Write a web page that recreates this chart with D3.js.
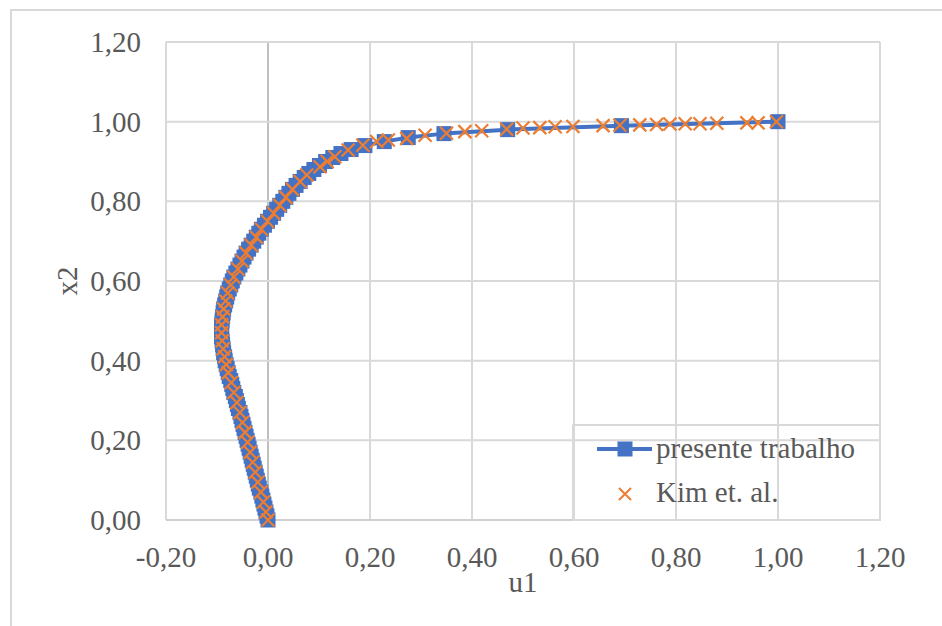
<!DOCTYPE html>
<html>
<head>
<meta charset="utf-8">
<script src="https://cdn.jsdelivr.net/npm/d3@7"></script>
<style>
	body { margin: 0; background: #fff; }
	svg { display: block; font-family: "Liberation Serif", "Times New Roman", serif; }
</style>
</head>
<body>
<svg id="chart" width="942" height="626"></svg>
<script>
// presente trabalho: uniform grid in x2, u1
var presenteY = [0.00,0.01,0.02,0.03,0.04,0.05,0.06,0.07,0.08,0.09,
	0.10,0.11,0.12,0.13,0.14,0.15,0.16,0.17,0.18,0.19,
	0.20,0.21,0.22,0.23,0.24,0.25,0.26,0.27,0.28,0.29,
	0.30,0.31,0.32,0.33,0.34,0.35,0.36,0.37,0.38,0.39,
	0.40,0.41,0.42,0.43,0.44,0.45,0.46,0.47,0.48,0.49,
	0.50,0.51,0.52,0.53,0.54,0.55,0.56,0.57,0.58,0.59,
	0.60,0.61,0.62,0.63,0.64,0.65,0.66,0.67,0.68,0.69,
	0.70,0.71,0.72,0.73,0.74,0.75,0.76,0.77,0.78,0.79,
	0.80,0.81,0.82,0.83,0.84,0.85,0.86,0.87,0.88,0.89,
	0.90,0.91,0.92,0.93,0.94,0.95,0.96,0.97,0.98,0.99,1.00];
var presenteU = [0.000,-0.002,-0.004,-0.006,-0.008,-0.010,-0.012,-0.014,-0.017,-0.019,
	-0.021,-0.023,-0.025,-0.027,-0.029,-0.031,-0.033,-0.035,-0.037,-0.039,
	-0.041,-0.043,-0.045,-0.047,-0.049,-0.051,-0.053,-0.055,-0.058,-0.060,
	-0.062,-0.064,-0.067,-0.069,-0.071,-0.073,-0.076,-0.078,-0.080,-0.082,
	-0.084,-0.085,-0.087,-0.088,-0.089,-0.090,-0.091,-0.091,-0.091,-0.091,
	-0.090,-0.089,-0.088,-0.087,-0.085,-0.083,-0.081,-0.079,-0.076,-0.073,
	-0.070,-0.067,-0.063,-0.059,-0.055,-0.051,-0.047,-0.043,-0.038,-0.033,
	-0.028,-0.023,-0.018,-0.013,-0.007,-0.001,0.005,0.011,0.017,0.023,
	0.029,0.035,0.041,0.048,0.055,0.063,0.071,0.080,0.090,0.101,
	0.113,0.127,0.143,0.163,0.190,0.228,0.275,0.345,0.470,0.693,1.000];

// Kim et. al.
var kimY = [0.000,0.020,0.045,0.070,0.095,0.120,0.145,0.170,0.195,0.220,
	0.245,0.270,0.295,0.320,0.345,0.370,0.390,0.410,0.430,0.450,
	0.470,0.490,0.510,0.530,0.550,0.570,0.590,0.610,0.630,0.650,
	0.670,0.690,0.710,0.730,0.750,0.770,0.790,0.810,0.830,0.850,
	0.866,0.887,0.900,0.912,0.929,0.941,0.950,0.954,0.958,0.966,
	0.971,0.975,0.977,0.981,0.984,0.985,0.987,0.988,0.990,0.991,
	0.992,0.993,0.994,0.995,0.995,0.996,0.997,0.997,1.000];
var kimU = [0.000,-0.004,-0.009,-0.014,-0.020,-0.025,-0.030,-0.035,-0.040,-0.045,
	-0.050,-0.055,-0.061,-0.067,-0.072,-0.078,-0.082,-0.085,-0.088,-0.090,
	-0.091,-0.091,-0.089,-0.087,-0.083,-0.079,-0.073,-0.067,-0.059,-0.051,
	-0.043,-0.033,-0.023,-0.013,-0.001,0.011,0.023,0.035,0.048,0.063,
	0.076,0.102,0.116,0.131,0.157,0.186,0.213,0.236,0.272,0.308,
	0.350,0.386,0.419,0.468,0.500,0.533,0.563,0.598,0.657,0.690,
	0.729,0.762,0.788,0.818,0.847,0.880,0.939,0.961,0.997];

var xTicks = [-0.2,0,0.2,0.4,0.6,0.8,1.0,1.2];
var yTicks = [0,0.2,0.4,0.6,0.8,1.0,1.2];
var seriesNames = ["presente trabalho", "Kim et. al."];

var blue = "#4472C4", orange = "#ED7D31", textColor = "#595959", gridColor = "#d9d9d9";

var svg = d3.select("#chart");
var plotLeft = 166, plotRight = 880, plotTop = 42, plotBottom = 520;
var fontSize = "29px";

var x = d3.scaleLinear().domain([-0.2, 1.2]).range([plotLeft, plotRight]);
var y = d3.scaleLinear().domain([0, 1.2]).range([plotBottom, plotTop]);

var fmt = d3.formatLocale({decimal: ",", thousands: ".", grouping: [3], currency: ["", ""], minus: "-"}).format(".2f");

// outer chart border
svg.append("rect")
	.attr("x", 11).attr("y", 10)
	.attr("width", 960).attr("height", 640)
	.attr("fill", "none").attr("stroke", gridColor).attr("stroke-width", 2);

// gridlines
svg.append("g").selectAll("line").data(xTicks).enter().append("line")
	.attr("x1", function(d) { return x(d); }).attr("x2", function(d) { return x(d); })
	.attr("y1", plotTop).attr("y2", plotBottom)
	.attr("stroke", function(d) { return d === 0 ? "#bfbfbf" : gridColor; })
	.attr("stroke-width", 2);

svg.append("g").selectAll("line").data(yTicks).enter().append("line")
	.attr("x1", plotLeft).attr("x2", plotRight)
	.attr("y1", function(d) { return y(d); }).attr("y2", function(d) { return y(d); })
	.attr("stroke", function(d) { return d === 0 ? "#cfcfcf" : gridColor; })
	.attr("stroke-width", 2);

// tick labels
svg.append("g").selectAll("text").data(yTicks).enter().append("text")
	.attr("x", 141).attr("y", function(d) { return y(d); })
	.attr("dy", "0.35em")
	.attr("text-anchor", "end")
	.attr("font-size", fontSize).attr("fill", textColor)
	.text(function(d) { return fmt(d); });

svg.append("g").selectAll("text").data(xTicks).enter().append("text")
	.attr("x", function(d) { return x(d); }).attr("y", 567)
	.attr("text-anchor", "middle")
	.attr("font-size", fontSize).attr("fill", textColor)
	.text(function(d) { return fmt(d); });

// axis titles
svg.append("text")
	.attr("x", (plotLeft + plotRight) / 2).attr("y", 592)
	.attr("text-anchor", "middle")
	.attr("font-size", fontSize).attr("fill", textColor)
	.text("u1");

svg.append("text")
	.attr("transform", "translate(77," + ((plotTop + plotBottom) / 2) + ") rotate(-90)")
	.attr("text-anchor", "middle")
	.attr("font-size", fontSize).attr("fill", textColor)
	.text("x2");

// series
var presente = presenteY.map(function(v, i) { return {u: presenteU[i], y: v}; });
var kim = kimY.map(function(v, i) { return {u: kimU[i], y: v}; });

var line = d3.line().x(function(d) { return x(d.u); }).y(function(d) { return y(d.y); });

svg.append("path").datum(presente)
	.attr("d", line)
	.attr("fill", "none").attr("stroke", blue).attr("stroke-width", 4)
	.attr("stroke-linejoin", "round");

var sq = 15;
svg.append("g").selectAll("rect").data(presente).enter().append("rect")
	.attr("x", function(d) { return x(d.u) - sq / 2; })
	.attr("y", function(d) { return y(d.y) - sq / 2; })
	.attr("width", sq).attr("height", sq)
	.attr("fill", blue);

var xMark = "M-6.5,-6.5L6.5,6.5M-6.5,6.5L6.5,-6.5";
svg.append("g").selectAll("path").data(kim).enter().append("path")
	.attr("transform", function(d) { return "translate(" + x(d.u) + "," + y(d.y) + ")"; })
	.attr("d", xMark)
	.attr("fill", "none").attr("stroke", orange).attr("stroke-width", 2.2);

// legend
var lg = svg.append("g");
lg.append("rect")
	.attr("x", 573).attr("y", 425).attr("width", 307).attr("height", 95)
	.attr("fill", "none").attr("stroke", gridColor).attr("stroke-width", 2);
lg.append("line")
	.attr("x1", 597).attr("x2", 652).attr("y1", 449).attr("y2", 449)
	.attr("stroke", blue).attr("stroke-width", 4);
lg.append("rect")
	.attr("x", 625 - sq / 2).attr("y", 449 - sq / 2).attr("width", sq).attr("height", sq)
	.attr("fill", blue);
lg.append("path")
	.attr("transform", "translate(625,494)")
	.attr("d", "M-6,-6L6,6M-6,6L6,-6")
	.attr("fill", "none").attr("stroke", orange).attr("stroke-width", 2);
lg.selectAll("text").data(seriesNames).enter().append("text")
	.attr("x", 656).attr("y", function(d, i) { return 458 + i * 44; })
	.attr("font-size", fontSize).attr("fill", textColor)
	.text(function(d) { return d; });
</script>
</body>
</html>
